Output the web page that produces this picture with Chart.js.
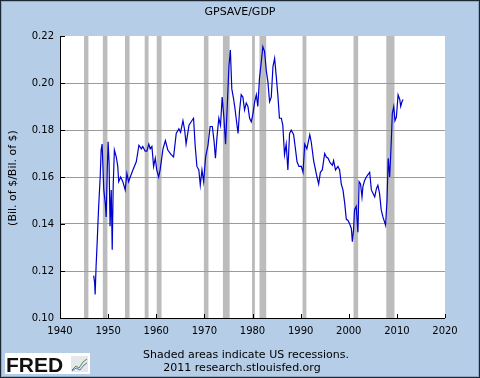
<!DOCTYPE html>
<html>
<head>
<meta charset="utf-8">
<script src="https://cdn.jsdelivr.net/npm/chart.js@4/dist/chart.umd.min.js"></script>
<style>
html,body{margin:0;padding:0;background:#b5cde6;}
canvas{display:block;}
</style>
</head>
<body>
<canvas id="c" width="480" height="378"></canvas>
<script>
// ---- data ----
const years = [1947.0,1947.2,1947.3,1947.5,1947.7,1948.0,1948.35,1948.55,1948.75,1949.1,1949.4,1949.6,1949.8,1950.0,1950.2,1950.4,1950.65,1950.85,1951.05,1951.3,1951.7,1952.0,1952.2,1952.6,1953.05,1953.55,1953.9,1954.25,1954.6,1955.15,1955.85,1956.4,1956.9,1957.2,1957.7,1958.05,1958.45,1958.75,1959.1,1959.45,1959.8,1960.1,1960.5,1960.8,1961.4,1961.9,1962.4,1963.1,1963.6,1964.15,1964.7,1965.05,1965.55,1965.9,1966.2,1966.8,1967.25,1967.75,1968.1,1968.45,1968.85,1969.15,1969.5,1969.85,1970.25,1970.75,1971.2,1971.65,1972.0,1972.3,1972.6,1973.0,1973.35,1973.7,1974.05,1974.4,1974.75,1975.1,1975.4,1975.7,1976.05,1976.4,1976.6,1977.0,1977.3,1977.65,1978.0,1978.35,1978.7,1979.05,1979.4,1979.75,1980.1,1980.45,1980.8,1981.1,1981.45,1981.8,1982.15,1982.5,1982.85,1983.2,1983.55,1983.9,1984.25,1984.6,1984.95,1985.3,1985.6,1986.0,1986.3,1986.65,1987.0,1987.35,1987.7,1988.05,1988.55,1988.95,1989.25,1989.65,1990.15,1990.5,1990.85,1991.3,1991.9,1992.2,1992.7,1993.05,1993.4,1993.75,1994.1,1994.5,1995.0,1995.35,1995.7,1996.15,1996.6,1996.85,1997.25,1997.75,1998.1,1998.45,1998.8,1999.15,1999.5,1999.85,2000.2,2000.55,2000.75,2001.0,2001.2,2001.55,2001.9,2002.15,2002.45,2002.75,2002.95,2003.3,2003.65,2004.0,2004.35,2004.7,2005.05,2005.4,2005.75,2006.05,2006.4,2006.75,2007.1,2007.65,2007.95,2008.2,2008.5,2008.7,2008.9,2009.05,2009.35,2009.6,2009.9,2010.25,2010.6,2010.8,2011.05,2011.3];
const values = [0.118,0.115,0.110,0.122,0.131,0.146,0.160,0.1715,0.174,0.1545,0.149,0.143,0.1615,0.175,0.166,0.139,0.1545,0.129,0.156,0.1715,0.1685,0.1645,0.158,0.160,0.158,0.1545,0.1615,0.158,0.160,0.163,0.1665,0.1735,0.172,0.173,0.171,0.171,0.174,0.172,0.173,0.1645,0.168,0.163,0.160,0.163,0.172,0.1755,0.1715,0.1695,0.1685,0.1785,0.1805,0.179,0.184,0.180,0.174,0.182,0.1835,0.185,0.173,0.1645,0.163,0.1565,0.163,0.158,0.1685,0.1735,0.1815,0.1815,0.1755,0.168,0.1765,0.185,0.182,0.194,0.1855,0.174,0.190,0.207,0.214,0.1975,0.1935,0.1885,0.185,0.1785,0.188,0.195,0.194,0.1885,0.1915,0.190,0.185,0.1835,0.187,0.192,0.195,0.190,0.202,0.2085,0.2155,0.2135,0.2055,0.2005,0.192,0.194,0.207,0.2105,0.2025,0.194,0.185,0.185,0.182,0.1695,0.174,0.163,0.1785,0.180,0.178,0.1715,0.1665,0.1645,0.1645,0.162,0.174,0.172,0.178,0.175,0.167,0.1635,0.160,0.157,0.162,0.163,0.170,0.1685,0.168,0.166,0.165,0.167,0.163,0.1645,0.163,0.157,0.1545,0.149,0.142,0.1415,0.140,0.138,0.1325,0.1375,0.146,0.1475,0.1365,0.158,0.157,0.1515,0.156,0.1585,0.160,0.161,0.162,0.1545,0.153,0.1515,0.155,0.1565,0.153,0.146,0.143,0.1395,0.150,0.168,0.160,0.1685,0.1785,0.187,0.190,0.184,0.1855,0.195,0.193,0.190,0.192,0.193];
const recessionStart = [1945.0,1948.9,1953.5,1957.6,1960.1,1969.9,1973.85,1979.9,1981.45,1990.4,2001.0,2007.8];
const recessionEnd   = [1945.9,1949.85,1954.45,1958.4,1961.1,1970.85,1975.25,1980.5,1982.85,1991.2,2001.95,2009.5];
const xTicks = [1940,1950,1960,1970,1980,1990,2000,2010,2020];
const yTicks = [0.10,0.12,0.14,0.16,0.18,0.20,0.22];
const titleText = 'GPSAVE/GDP';
const yAxisLabel = '(Bil. of $/Bil. of $)';
const noteLines = ['Shaded areas indicate US recessions.', '2011 research.stlouisfed.org'];

const FONT = 'DejaVu Sans';

const decor = {
  id: 'decor',
  beforeDraw(chart) {
    const ctx = chart.ctx, a = chart.chartArea, xs = chart.scales.x;
    ctx.save();
    // background
    ctx.fillStyle = '#b5cde6';
    ctx.fillRect(0, 0, 480, 378);
    ctx.strokeStyle = '#1c2733';
    ctx.lineWidth = 1;
    ctx.strokeRect(0.5, 0.5, 479, 377);
    ctx.strokeStyle = '#8fa9c4';
    ctx.strokeRect(1.5, 1.5, 477, 375);
    // plot area
    ctx.fillStyle = '#ffffff';
    ctx.fillRect(a.left, a.top, a.right - a.left, a.bottom - a.top);
    // recession bands
    ctx.fillStyle = '#bcbcbc';
    for (let i = 0; i < recessionStart.length; i++) {
      const x1 = xs.getPixelForValue(recessionStart[i]);
      const x2 = xs.getPixelForValue(recessionEnd[i]);
      ctx.fillRect(x1, a.top, x2 - x1, a.bottom - a.top);
    }
    ctx.restore();
  },
  afterDraw(chart) {
    const ctx = chart.ctx, a = chart.chartArea, xs = chart.scales.x, ys = chart.scales.y;
    ctx.save();
    ctx.strokeStyle = '#000';
    ctx.lineWidth = 1;
    // axes
    ctx.beginPath();
    ctx.moveTo(a.left + 0.5, a.top);
    ctx.lineTo(a.left + 0.5, a.bottom + 0.5);
    ctx.lineTo(a.right, a.bottom + 0.5);
    ctx.stroke();
    // inward ticks
    ctx.beginPath();
    xTicks.forEach(t => {
      const x = Math.round(xs.getPixelForValue(t)) + 0.5;
      ctx.moveTo(x, a.bottom);
      ctx.lineTo(x, a.bottom - 4);
    });
    yTicks.forEach(t => {
      const y = Math.round(ys.getPixelForValue(t)) + 0.5;
      ctx.moveTo(a.left, y);
      ctx.lineTo(a.left + 5, y);
    });
    ctx.stroke();
    // title
    ctx.fillStyle = '#000';
    ctx.font = '11px "' + FONT + '"';
    ctx.textAlign = 'center';
    ctx.textBaseline = 'middle';
    ctx.fillText(titleText, 240, 12);
    // y label
    ctx.save();
    ctx.translate(13, 178);
    ctx.rotate(-Math.PI / 2);
    ctx.fillText(yAxisLabel, 0, 0);
    ctx.restore();
    // notes
    ctx.fillText(noteLines[0], 246, 355);
    ctx.fillText(noteLines[1], 242, 368);
    // FRED logo
    ctx.fillStyle = '#ffffff';
    ctx.fillRect(5, 353, 85, 21);
    ctx.fillStyle = '#111';
    ctx.font = 'bold 21px "Liberation Sans"';
    ctx.textAlign = 'left';
    ctx.textBaseline = 'alphabetic';
    ctx.fillText('FRED', 6, 372);
    ctx.fillStyle = '#e4e8ec';
    ctx.fillRect(71, 356, 17, 16);
    ctx.strokeStyle = '#5a8f3a';
    ctx.beginPath();
    ctx.moveTo(72, 370); ctx.lineTo(76, 366); ctx.lineTo(79, 368); ctx.lineTo(83, 362); ctx.lineTo(87, 359);
    ctx.stroke();
    ctx.strokeStyle = '#5577aa';
    ctx.beginPath();
    ctx.moveTo(72, 371); ctx.lineTo(76, 368); ctx.lineTo(80, 370); ctx.lineTo(84, 365); ctx.lineTo(87, 363);
    ctx.stroke();
    ctx.restore();
  }
};

new Chart(document.getElementById('c'), {
  type: 'line',
  data: {
    datasets: [{
      data: years.map((x, i) => ({ x: x, y: values[i] })),
      borderColor: '#0000cc',
      borderWidth: 1.2,
      pointRadius: 0,
      tension: 0,
      fill: false
    }]
  },
  options: {
    responsive: false,
    animation: false,
    events: [],
    layout: { padding: { left: 0, right: 35, top: 36, bottom: 0 } },
    plugins: { legend: { display: false }, title: { display: false }, tooltip: { enabled: false } },
    scales: {
      x: {
        type: 'linear',
        min: 1940, max: 2020,
        afterBuildTicks: s => { s.ticks = xTicks.map(v => ({ value: v })); },
        afterFit: s => { s.height = 60; },
        grid: { display: false, drawTicks: false },
        border: { display: false },
        ticks: { color: '#000', font: { family: FONT, size: 10 }, padding: 7, maxRotation: 0, autoSkip: false,
                 callback: v => String(v) }
      },
      y: {
        min: 0.10, max: 0.22,
        afterBuildTicks: s => { s.ticks = yTicks.map(v => ({ value: v })); },
        afterFit: s => { s.width = 60; },
        grid: {
          drawTicks: false,
          color: c => (c.tick && (Math.abs(c.tick.value - 0.10) < 1e-6 || Math.abs(c.tick.value - 0.22) < 1e-6)) ? 'rgba(0,0,0,0)' : '#9a9a9a',
          lineWidth: 1
        },
        border: { display: false },
        ticks: { color: '#000', font: { family: FONT, size: 10 }, padding: 6, autoSkip: false,
                 callback: v => Number(v).toFixed(2) }
      }
    }
  },
  plugins: [decor]
});
</script>
</body>
</html>
